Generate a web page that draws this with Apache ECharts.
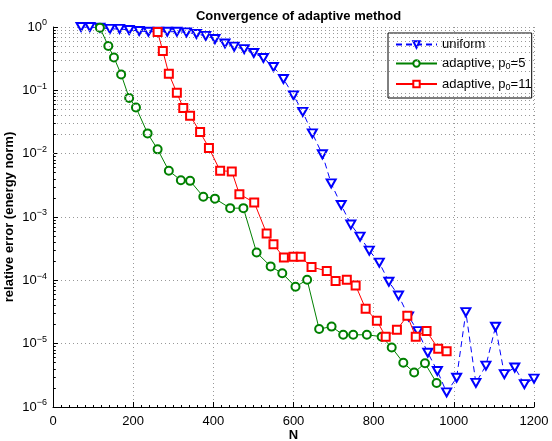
<!DOCTYPE html>
<html lang="en">
<head>
    <meta charset="UTF-8">
    <title>Convergence of adaptive method</title>
    <script src="https://cdn.jsdelivr.net/npm/echarts@6/dist/echarts.min.js"></script>
    <style>
        html, body { margin: 0; padding: 0; background: #fff; }
        #chart { width: 552px; height: 441px; }
    </style>
</head>
<body>
    <div id="chart"></div>
    <script>
        // uniform refinement
        var uniformN = [70, 92, 117, 142, 166, 190, 215, 238, 263, 285, 309, 333, 358, 381, 404, 429,
            452, 477, 501, 525, 550, 575, 600, 623, 647, 672, 694, 719, 743, 766, 789, 814,
            838, 862, 887, 910, 935, 959, 982, 1007, 1030, 1055, 1080, 1104, 1126, 1152, 1176, 1200];
        var uniformErr = [1.0, 1.0, 0.977, 0.933, 0.933, 0.897, 0.865, 0.843, 0.843, 0.843, 0.843, 0.824, 0.776, 0.724, 0.646, 0.55,
            0.49, 0.447, 0.389, 0.324, 0.234, 0.151, 0.0832, 0.0457, 0.0209, 0.00977, 0.00339, 0.00155, 7.6e-4, 4.9e-4, 2.95e-4, 1.9e-4,
            9.5e-5, 5.75e-5, 2.7e-5, 1.58e-5, 7.2e-6, 3.7e-6, 1.7e-6, 2.9e-6, 3.15e-5, 2.4e-6, 4.5e-6, 1.85e-5, 3.3e-6, 4.2e-6, 2.3e-6, 2.8e-6];

        // adaptive, p0 = 5
        var adapt5N = [117, 138, 152, 170, 190, 207, 236, 261, 289, 319, 342, 375, 404, 442, 475, 508,
            543, 572, 605, 634, 664, 695, 724, 749, 783, 820, 845, 874, 901, 928, 957];
        var adapt5Err = [0.977, 0.50, 0.33, 0.178, 0.0759, 0.0537, 0.0209, 0.0117, 0.00537, 0.0038, 0.00372, 0.00209, 0.00195, 0.00138, 0.00138, 2.75e-4,
            1.66e-4, 1.29e-4, 7.9e-5, 1.02e-4, 1.7e-5, 1.86e-5, 1.38e-5, 1.38e-5, 1.38e-5, 1.29e-5, 8.7e-6, 5.0e-6, 3.5e-6, 4.9e-6, 2.4e-6];

        // adaptive, p0 = 11
        var adapt11N = [261, 274, 289, 309, 325, 342, 367, 389, 417, 446, 465, 502, 533, 550, 576, 600,
            618, 645, 683, 705, 733, 755, 780, 808, 830, 858, 884, 905, 932, 961, 982];
        var adapt11Err = [0.832, 0.417, 0.182, 0.0912, 0.0525, 0.0398, 0.0219, 0.0123, 0.00537, 0.00525, 0.00229, 0.0017, 5.5e-4, 3.7e-4, 2.3e-4, 2.35e-4,
            2.35e-4, 1.62e-4, 1.41e-4, 9.8e-5, 1.02e-4, 8.3e-5, 3.55e-5, 2.3e-5, 1.29e-5, 1.66e-5, 2.75e-5, 1.29e-5, 1.58e-5, 8.3e-6, 7.6e-6];

        var xTicks = [0, 200, 400, 600, 800, 1000, 1200];
        var decades = [-6, -5, -4, -3, -2, -1, 0];

        function pairs(xs, ys) {
            return xs.map(function (x, i) { return [x, ys[i]]; });
        }

        // minor log grid: 2..9 x 10^k
        var minorVals = [];
        for (var k = -6; k < 0; k++) {
            for (var m = 2; m <= 9; m++) minorVals.push(m * Math.pow(10, k));
        }

        var font = 'Liberation Sans, Arial, Helvetica, sans-serif';
        var gridLine = { color: '#999', width: 1, type: [1, 3] };

        var myChart = echarts.init(document.getElementById('chart'));
        var option = {
            backgroundColor: '#fff',
            animation: false,
            textStyle: { fontFamily: font },
            title: {
                text: 'Convergence of adaptive method',
                left: 293.5,
                textAlign: 'center',
                top: 5,
                textStyle: { fontSize: 13, fontWeight: 'bold', color: '#000', fontFamily: font }
            },
            // axis titles placed by hand (ECharts pushes axis names past the labels)
            graphic: [
                {
                    type: 'text', x: 293.5, y: 435, silent: true,
                    style: {
                        text: 'N', fill: '#000', font: 'bold 13px ' + font,
                        textAlign: 'center', textVerticalAlign: 'middle', align: 'center', verticalAlign: 'middle'
                    }
                },
                {
                    type: 'text', x: 9, y: 217, rotation: Math.PI / 2, silent: true,
                    style: {
                        text: 'relative error (energy norm)', fill: '#000', font: 'bold 13px ' + font,
                        textAlign: 'center', textVerticalAlign: 'middle', align: 'center', verticalAlign: 'middle'
                    }
                }
            ],
            grid: { left: 53, right: 18, top: 27, bottom: 34, outerBoundsMode: 'none' },
            legend: {
                data: ['uniform', 'adaptive, p0=5', 'adaptive, p0=11'],
                orient: 'vertical',
                left: 388,
                top: 33,
                padding: [5, 0, 6, 7],
                itemGap: 6,
                itemWidth: 41,
                itemHeight: 8,
                borderColor: '#000',
                borderWidth: 1,
                backgroundColor: '#fff',
                formatter: function (name) {
                    return name.replace('p0', 'p{sub|0}');
                },
                textStyle: {
                    fontSize: 13,
                    color: '#000',
                    fontFamily: font,
                    rich: { sub: { fontSize: 9, padding: [7, 0, 0, 0], fontFamily: font } }
                }
            },
            xAxis: {
                type: 'value',
                min: 0,
                max: 1200,
                interval: 200,
                axisLine: { lineStyle: { color: '#000', width: 1 } },
                axisTick: { inside: true, length: 5, lineStyle: { color: '#000' } },
                minorTick: { show: true, splitNumber: 10, length: 2, lineStyle: { color: '#000' } },
                axisLabel: {
                    margin: 8, fontSize: 13, color: '#000',
                    formatter: function (v) { return xTicks.indexOf(v) >= 0 ? String(v) : ''; }
                },
                splitLine: { show: true, lineStyle: gridLine }
            },
            yAxis: {
                type: 'log',
                logBase: 10,
                min: 1e-6,
                max: 1,
                splitNumber: 6,
                axisLine: { show: true, lineStyle: { color: '#000', width: 1 } },
                axisTick: { inside: true, length: 5, lineStyle: { color: '#000' } },
                axisLabel: {
                    margin: 6,
                    color: '#000',
                    formatter: function (v) {
                        var e = Math.round(Math.log10(v));
                        if (decades.indexOf(e) < 0) return '';
                        return '{b|10}{s|' + (e < 0 ? '\u2212' + (-e) : e) + '}';
                    },
                    rich: {
                        b: { fontSize: 13, color: '#000', fontFamily: font },
                        s: { fontSize: 9, color: '#000', padding: [0, 0, 8, 0], fontFamily: font }
                    }
                },
                splitLine: { show: true, lineStyle: gridLine }
            },
            series: [
                {
                    name: 'minor grid',
                    type: 'line',
                    data: [],
                    silent: true,
                    markLine: {
                        silent: true,
                        symbol: 'none',
                        label: { show: false },
                        animation: false,
                        lineStyle: gridLine,
                        data: minorVals.map(function (v) { return { yAxis: v }; })
                            .concat(minorVals.map(function (v) {
                                return [
                                    { coord: [0, v], lineStyle: { color: '#000', type: 'solid', width: 1 } },
                                    { coord: [7, v] }
                                ];
                            }))
                    }
                },
                {
                    name: 'uniform',
                    type: 'line',
                    data: pairs(uniformN, uniformErr),
                    symbol: 'emptyTriangle',
                    symbolRotate: 180,
                    symbolSize: [9, 8],
                    color: '#0000ff',
                    itemStyle: { color: '#0000ff', borderWidth: 1 },
                    emphasis: { disabled: true },
                    lineStyle: { color: '#0000ff', width: 1, type: [6, 4] },
                    z: 3
                },
                {
                    name: 'adaptive, p0=5',
                    type: 'line',
                    data: pairs(adapt5N, adapt5Err),
                    symbol: 'emptyCircle',
                    symbolSize: 8,
                    color: '#008000',
                    itemStyle: { color: '#008000', borderWidth: 1 },
                    emphasis: { disabled: true },
                    lineStyle: { color: '#008000', width: 1 },
                    z: 4
                },
                {
                    name: 'adaptive, p0=11',
                    type: 'line',
                    data: pairs(adapt11N, adapt11Err),
                    symbol: 'emptyRect',
                    symbolSize: 8,
                    color: '#ff0000',
                    itemStyle: { color: '#ff0000', borderWidth: 1 },
                    emphasis: { disabled: true },
                    lineStyle: { color: '#ff0000', width: 1 },
                    z: 5
                }
            ]
        };
        myChart.setOption(option);
    </script>
</body>
</html>
